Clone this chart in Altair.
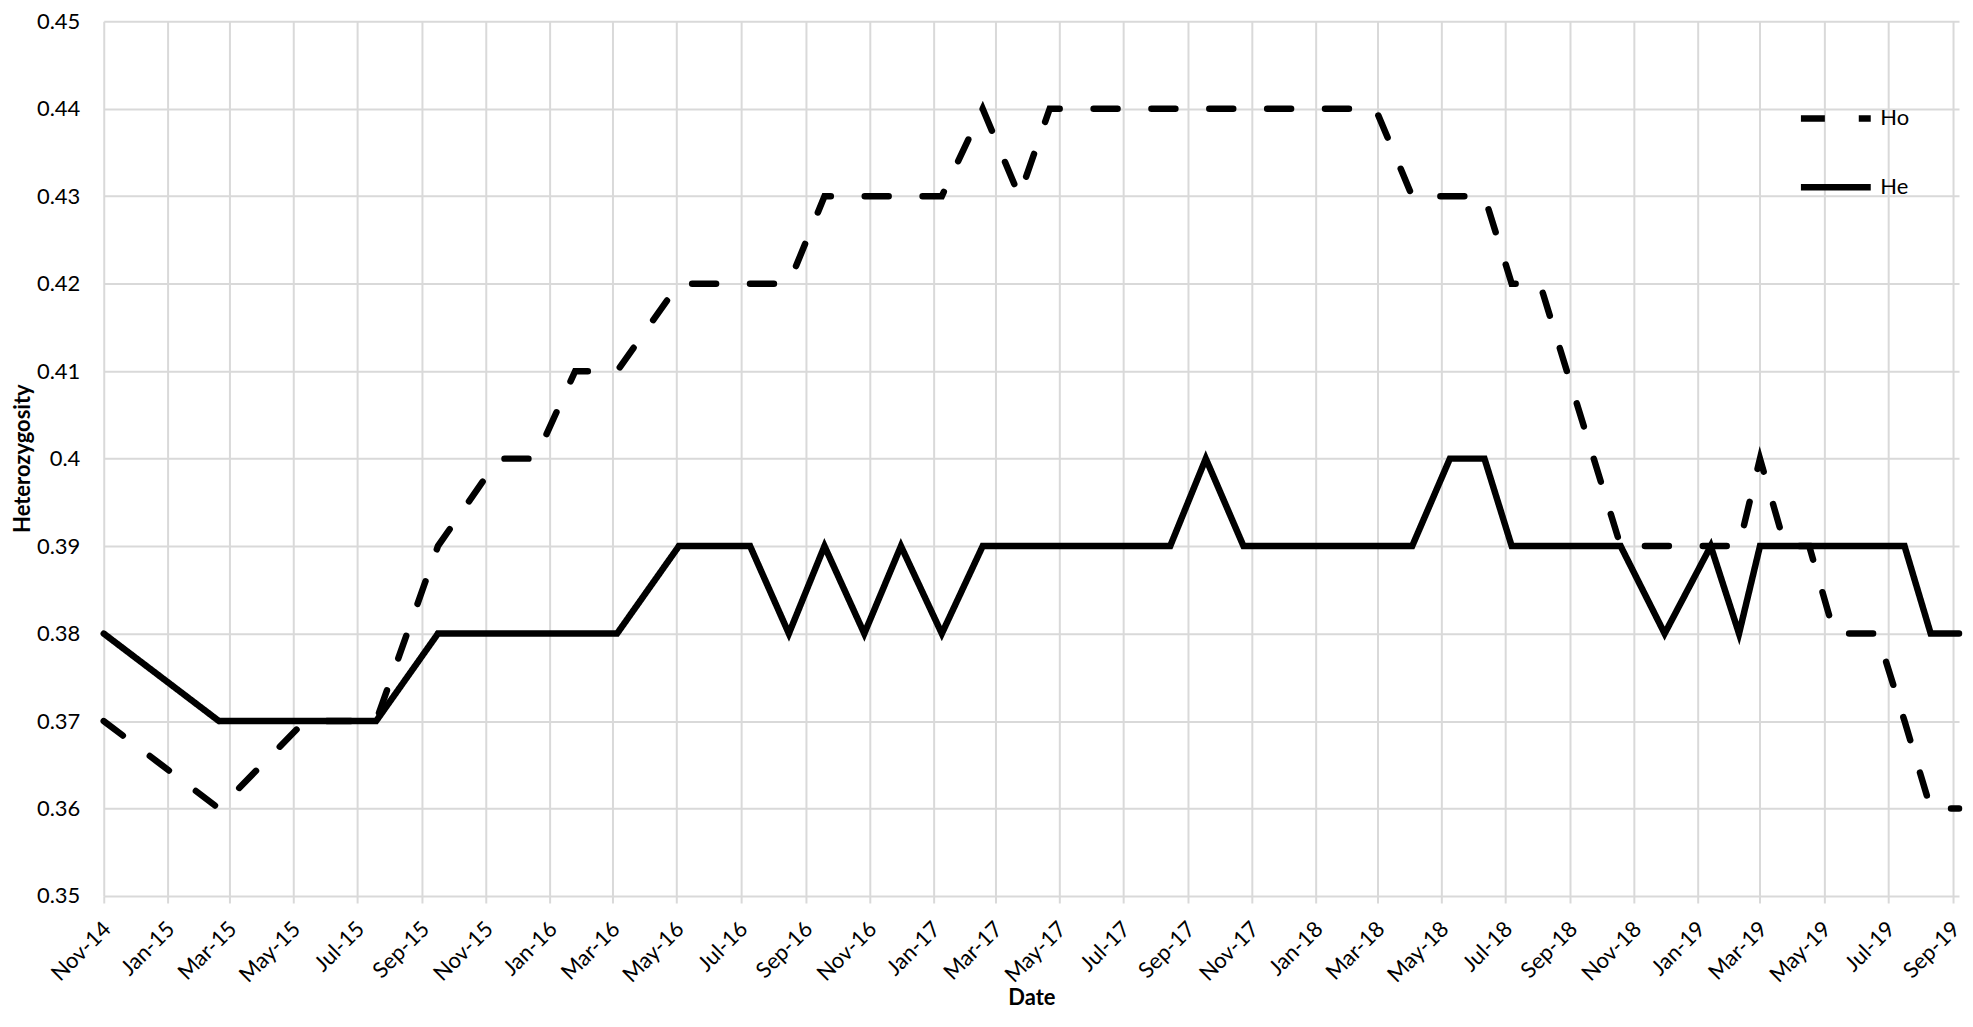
import altair as alt
import pandas as pd

# Sampling dates (shared by both series)
dates = [
    "2014-11-01", "2015-02-19", "2015-05-12", "2015-07-19", "2015-09-16",
    "2015-11-13", "2015-12-18", "2016-01-25", "2016-03-05", "2016-05-03",
    "2016-07-10", "2016-08-16", "2016-09-19", "2016-10-27", "2016-12-01",
    "2017-01-09", "2017-02-17", "2017-03-24", "2017-04-22", "2017-08-15",
    "2017-09-18", "2017-10-24", "2018-02-27", "2018-04-03", "2018-05-09",
    "2018-06-11", "2018-07-07", "2018-08-03", "2018-10-19", "2018-11-30",
    "2019-01-13", "2019-02-09", "2019-03-01", "2019-03-25", "2019-04-17",
    "2019-05-11", "2019-06-21", "2019-07-17", "2019-08-11", "2019-09-07",
]
ho = [
    0.37, 0.36, 0.37, 0.37, 0.39,
    0.40, 0.40, 0.41, 0.41, 0.42,
    0.42, 0.42, 0.43, 0.43, 0.43,
    0.43, 0.44, 0.43, 0.44, 0.44,
    0.44, 0.44, 0.44, 0.43, 0.43,
    0.43, 0.42, 0.42, 0.39, 0.39,
    0.39, 0.39, 0.40, 0.39, 0.39,
    0.38, 0.38, 0.37, 0.36, 0.36,
]
he = [
    0.38, 0.37, 0.37, 0.37, 0.38,
    0.38, 0.38, 0.38, 0.38, 0.39,
    0.39, 0.38, 0.39, 0.38, 0.39,
    0.38, 0.39, 0.39, 0.39, 0.39,
    0.40, 0.39, 0.39, 0.39, 0.40,
    0.40, 0.39, 0.39, 0.39, 0.38,
    0.39, 0.38, 0.39, 0.39, 0.39,
    0.39, 0.39, 0.39, 0.38, 0.38,
]
series_names = ["Ho", "He"]

# Axis ticks
x_tick_months = [
    (2014, 11), (2015, 1), (2015, 3), (2015, 5), (2015, 7), (2015, 9), (2015, 11),
    (2016, 1), (2016, 3), (2016, 5), (2016, 7), (2016, 9), (2016, 11),
    (2017, 1), (2017, 3), (2017, 5), (2017, 7), (2017, 9), (2017, 11),
    (2018, 1), (2018, 3), (2018, 5), (2018, 7), (2018, 9), (2018, 11),
    (2019, 1), (2019, 3), (2019, 5), (2019, 7), (2019, 9),
]
y_ticks = [0.35, 0.36, 0.37, 0.38, 0.39, 0.40, 0.41, 0.42, 0.43, 0.44, 0.45]

rows = []
for d, v in zip(dates, ho):
    rows.append({"Date": d, "value": v, "series": "Ho"})
for d, v in zip(dates, he):
    rows.append({"Date": d, "value": v, "series": "He"})
df = pd.DataFrame(rows)

FONT = "Lato"
GRID = "#d9d9d9"

x_values = [alt.DateTime(year=y, month=m, date=1, utc=True) for (y, m) in x_tick_months]

chart = alt.Chart(df).mark_line(
    color="black", strokeWidth=6.5, strokeCap="round"
).encode(
    x=alt.X(
        "Date:T",
        scale=alt.Scale(
            type="utc",
            domain=[alt.DateTime(year=2014, month=11, date=1, utc=True),
                    alt.DateTime(year=2019, month=9, date=7, utc=True)],
            nice=False,
        ),
        axis=alt.Axis(
            values=x_values,
            format="%b-%y",
            labelAngle=-45,
            labelAlign="right",
            labelBaseline="middle",
            labelFont=FONT,
            labelFontSize=22,
            labelColor="black",
            labelPadding=22,
            labelOffset=3,
            labelOverlap=False,
            labelFlush=False,
            labelBound=False,
            ticks=True,
            tickSize=7,
            tickColor=GRID,
            tickWidth=2,
            grid=True,
            gridColor=GRID,
            gridWidth=2,
            domain=False,
            title="Date",
            titleFont=FONT,
            titleFontSize=22,
            titleFontWeight="bold",
            titleColor="black",
            titleBaseline="alphabetic",
            titleY=109,
        ),
    ),
    y=alt.Y(
        "value:Q",
        scale=alt.Scale(domain=[0.35, 0.45], zero=False, nice=False),
        axis=alt.Axis(
            values=y_ticks,
            format=".2~f",
            labelFont=FONT,
            labelFontSize=22,
            labelColor="black",
            labelPadding=24,
            ticks=False,
            domain=False,
            grid=True,
            gridColor=GRID,
            gridWidth=2,
            title="Heterozygosity",
            titleFont=FONT,
            titleFontSize=22,
            titleFontWeight="bold",
            titleColor="black",
            titleAngle=270,
            titleBaseline="alphabetic",
            titleX=-74,
            titleY=438,
        ),
    ),
    strokeDash=alt.StrokeDash(
        "series:N",
        scale=alt.Scale(domain=series_names, range=[[24, 34], [1, 0]]),
        legend=alt.Legend(
            title=None,
            orient="none",
            legendX=1698,
            legendY=59,
            symbolType="stroke",
            symbolSize=4900,
            symbolStrokeWidth=6.5,
            symbolStrokeColor="black",
            labelFont=FONT,
            labelFontSize=22,
            labelColor="black",
            labelOffset=6,
            padding=0,
            rowPadding=17,
        ),
    ),
).properties(
    width=1860,
    height=877,
    autosize=alt.AutoSizeParams(type="none"),
    padding={"left": 96, "top": 12, "right": 6, "bottom": 116},
    background="white",
).configure_view(
    strokeWidth=0
)

chart.save("out.html", embed_options={"renderer": "svg", "actions": False})
